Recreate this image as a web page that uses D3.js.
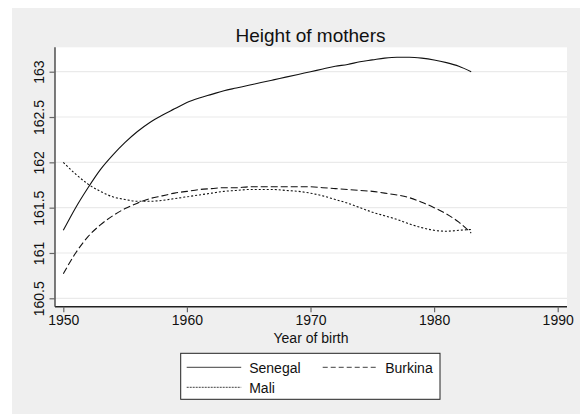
<!DOCTYPE html>
<html>
<head>
<meta charset="utf-8">
<script src="https://cdn.jsdelivr.net/npm/d3@7"></script>
<style>
	body { margin: 0; background: #fff; }
	svg { display: block; font-family: "Liberation Sans", Arial, sans-serif; }
</style>
</head>
<body>
<svg class="chart" width="580" height="414"></svg>
<script>
const years = d3.range(1950, 1984);
const senegal = [
	161.25, 161.50, 161.72, 161.92, 162.08, 162.22, 162.34, 162.44, 162.52, 162.59,
	162.66, 162.71, 162.75, 162.79, 162.82, 162.85, 162.88, 162.91, 162.94, 162.97,
	163.00, 163.03, 163.06, 163.08, 163.11, 163.13, 163.15, 163.16, 163.16, 163.15,
	163.13, 163.10, 163.06, 163.00
];
const burkina = [
	160.77, 161.00, 161.18, 161.31, 161.41, 161.49, 161.55, 161.60, 161.63, 161.66,
	161.68, 161.70, 161.71, 161.72, 161.72, 161.73, 161.73, 161.73, 161.73, 161.73,
	161.73, 161.72, 161.71, 161.70, 161.69, 161.68, 161.66, 161.64, 161.61, 161.56,
	161.50, 161.43, 161.34, 161.22
];
const mali = [
	162.00, 161.87, 161.76, 161.68, 161.62, 161.59, 161.57, 161.57, 161.58, 161.60,
	161.62, 161.64, 161.66, 161.68, 161.69, 161.70, 161.70, 161.70, 161.69, 161.68,
	161.66, 161.63, 161.59, 161.55, 161.50, 161.45, 161.41, 161.37, 161.32, 161.28,
	161.25, 161.24, 161.25, 161.26
];
const seriesNames = ['Senegal', 'Burkina', 'Mali'];
const xTicks = [1950, 1960, 1970, 1980, 1990];
const yTicks = [160.5, 161, 161.5, 162, 162.5, 163];

function startApp() {
	const svg = d3.select('.chart');
	const plot = {left: 55, top: 47.3, right: 567, bottom: 306.7};
	const xScale = d3.scaleLinear().domain([1950, 1990]).range([63.3, 557.7]);
	const yScale = d3.scaleLinear().domain([160.5, 163]).range([298.3, 71.7]);
	const dashes = {Senegal: null, Burkina: '7,3', Mali: '2,2'};
	const legendDashes = {Senegal: null, Burkina: '5,3', Mali: '2,1'};
	const series = [senegal, burkina, mali].map((values, i) => ({
		name: seriesNames[i],
		points: values.map((v, j) => [years[j], v])
	}));

	// outer gray panel and white plot region
	svg.append('rect').attr('x', 12).attr('y', 8).attr('width', 568).attr('height', 406)
		.attr('fill', '#efefef');
	svg.append('rect')
		.attr('x', plot.left).attr('y', plot.top)
		.attr('width', plot.right - plot.left).attr('height', plot.bottom - plot.top)
		.attr('fill', '#fff');

	// grid
	svg.append('g').selectAll('line')
		.data(yTicks)
		.enter()
			.append('line')
			.attr('x1', plot.left).attr('x2', plot.right)
			.attr('y1', d => yScale(d)).attr('y2', d => yScale(d))
			.attr('stroke', '#eaeaea').attr('stroke-width', 1.2);

	// lines
	const line = d3.line()
		.x(([x]) => xScale(x))
		.y(([, y]) => yScale(y))
		.curve(d3.curveMonotoneX);
	svg.append('g').selectAll('path')
		.data(series)
		.enter()
			.append('path')
			.attr('d', d => line(d.points))
			.attr('fill', 'none')
			.attr('stroke', '#111')
			.attr('stroke-width', 1.1)
			.attr('stroke-dasharray', d => dashes[d.name]);

	// axes
	const xAxis = d3.axisBottom(xScale).tickValues(xTicks).tickFormat(d3.format('d'))
		.tickSize(5.5).tickSizeOuter(0).tickPadding(3);
	const gx = svg.append('g')
		.attr('transform', `translate(0, ${plot.bottom})`)
		.call(xAxis);
	gx.select('.domain').attr('d', `M${plot.left},0H${plot.right}`)
		.attr('stroke', '#222').attr('stroke-width', 1.4);
	gx.selectAll('.tick line').attr('stroke', '#666').attr('stroke-width', 1.2);
	gx.selectAll('.tick text').attr('font-size', 14).attr('fill', '#111')
		.attr('font-family', '"Liberation Sans", Arial, sans-serif');

	const yAxis = d3.axisLeft(yScale).tickValues(yTicks).tickFormat(d => String(d))
		.tickSize(5.5).tickSizeOuter(0);
	const gy = svg.append('g')
		.attr('transform', `translate(${plot.left}, 0)`)
		.call(yAxis);
	gy.select('.domain').attr('d', `M0,${plot.top}V${plot.bottom}`)
		.attr('stroke', '#444').attr('stroke-width', 1.4);
	gy.selectAll('.tick line').attr('stroke', '#666').attr('stroke-width', 1.2);
	gy.selectAll('.tick text')
		.attr('font-size', 14).attr('fill', '#111')
		.attr('font-family', '"Liberation Sans", Arial, sans-serif')
		.attr('x', null).attr('dy', null)
		.attr('text-anchor', 'middle')
		.attr('transform', 'translate(-11.5, 0) rotate(-90)');

	// titles
	svg.append('text')
		.attr('x', 310.5).attr('y', 41.7)
		.attr('text-anchor', 'middle')
		.attr('font-size', 19).attr('fill', '#111')
		.text('Height of mothers');
	svg.append('text')
		.attr('x', 311).attr('y', 343.3)
		.attr('text-anchor', 'middle')
		.attr('font-size', 14).attr('fill', '#111')
		.text('Year of birth');

	// legend
	const legend = svg.append('g');
	legend.append('rect')
		.attr('x', 180.7).attr('y', 353.3).attr('width', 259.3).attr('height', 46)
		.attr('fill', '#fff').attr('stroke', '#222').attr('stroke-width', 1);
	const legendPos = [
		{x: 186.7, y: 367.3},
		{x: 322.7, y: 367.3},
		{x: 186.7, y: 387.3}
	];
	const item = legend.selectAll('g.item')
		.data(series)
		.enter()
			.append('g')
			.attr('class', 'item')
			.attr('transform', (d, i) => `translate(${legendPos[i].x}, ${legendPos[i].y})`);
	item.append('line')
		.attr('x1', 0).attr('x2', 54.5).attr('y1', 0).attr('y2', 0)
		.attr('stroke', '#666').attr('stroke-width', 1.2)
		.attr('stroke-dasharray', d => legendDashes[d.name]);
	item.append('text')
		.attr('x', 62.5).attr('y', 5.3)
		.attr('font-size', 14).attr('fill', '#111')
		.text(d => d.name);
}

window.onload = startApp;
</script>
</body>
</html>
